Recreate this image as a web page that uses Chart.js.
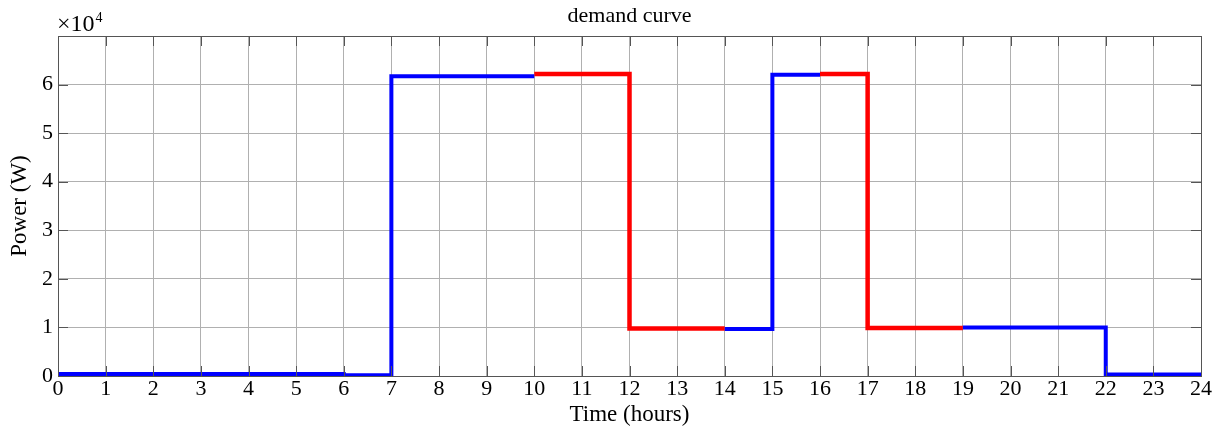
<!DOCTYPE html>
<html>
<head>
<meta charset="utf-8">
<script src="https://cdn.jsdelivr.net/npm/chart.js@4/dist/chart.umd.min.js"></script>
<style>
  html, body { margin: 0; padding: 0; background: #fff; }
  #wrap { width: 1227px; height: 430px; position: relative; }
</style>
</head>
<body>
<div id="wrap"><canvas id="demandChart"></canvas></div>
<script>
// ---- DATA ----
// hours (null breaks the line)
const blueX = [0, 6, 6, 7, 7, 10, null, 14, 15, 15, 16, null, 19, 22, 22, 24];
const blueY = [400, 400, 150, 150, 61700, 61700, null, 9700, 9700, 62000, 62000, null, 10000, 10000, 300, 300];
const redX = [10, 12, 12, 14, null, 16, 17, 17, 19];
const redY = [62200, 62200, 9800, 9800, null, 62200, 62200, 9900, 9900];
const xTicks = Array.from({ length: 25 }, (_, i) => i);
const yTicks = [0, 10000, 20000, 30000, 40000, 50000, 60000, 70000];

const serif = '"Liberation Serif", "DejaVu Serif", serif';

function toPoints(xs, ys) {
  return xs.map((x, i) => x === null ? { x: NaN, y: null } : { x: x, y: ys[i] });
}

// frame, inward ticks, title and exponent label
const framePlugin = {
  id: 'frame',
  afterDraw(chart) {
    const { ctx, chartArea: a, scales } = chart;
    ctx.save();
    ctx.strokeStyle = '#555';
    ctx.lineWidth = 1;
    ctx.strokeRect(a.left + 0.5, a.top + 0.5, a.right - a.left, a.bottom - a.top);
    ctx.beginPath();
    xTicks.forEach(v => {
      const px = Math.round(scales.x.getPixelForValue(v)) + 0.5;
      ctx.moveTo(px, a.bottom); ctx.lineTo(px, a.bottom - 10);
      ctx.moveTo(px, a.top); ctx.lineTo(px, a.top + 10);
    });
    yTicks.forEach(v => {
      const py = Math.round(scales.y.getPixelForValue(v)) + 0.5;
      ctx.moveTo(a.left, py); ctx.lineTo(a.left + 10, py);
      ctx.moveTo(a.right, py); ctx.lineTo(a.right - 10, py);
    });
    ctx.stroke();

    ctx.fillStyle = '#000';
    ctx.font = '22px ' + serif;
    ctx.textAlign = 'center';
    ctx.textBaseline = 'middle';
    ctx.fillText('demand curve', (a.left + a.right) / 2, 16);

    ctx.textAlign = 'left';
    ctx.font = '24px ' + serif;
    const base = '\u00d710';
    ctx.fillText(base, a.left - 1, 25);
    const w = ctx.measureText(base).width;
    ctx.font = '14px ' + serif;
    ctx.fillText('4', a.left + w, 18);
    ctx.restore();
  }
};

new Chart(document.getElementById('demandChart'), {
  type: 'line',
  data: {
    datasets: [
      {
        data: toPoints(blueX, blueY),
        borderColor: '#0000ff',
        borderWidth: 4,
        pointRadius: 0,
        spanGaps: false,
        borderJoinStyle: 'miter'
      },
      {
        data: toPoints(redX, redY),
        borderColor: '#ff0000',
        borderWidth: 4.5,
        pointRadius: 0,
        spanGaps: false,
        borderJoinStyle: 'miter'
      }
    ]
  },
  plugins: [framePlugin],
  options: {
    responsive: true,
    maintainAspectRatio: false,
    animation: false,
    layout: { padding: { top: 36, right: 26, left: 0, bottom: 0 } },
    plugins: {
      legend: { display: false },
      tooltip: { enabled: false },
      title: { display: false }
    },
    scales: {
      x: {
        type: 'linear',
        min: 0,
        max: 24,
        afterBuildTicks: s => { s.ticks = xTicks.map(v => ({ value: v })); },
        afterFit: s => { s.height = 54; },
        grid: { color: '#b0b0b0', lineWidth: 1, drawTicks: false },
        border: { display: false },
        ticks: { color: '#000', font: { family: serif, size: 22 }, padding: 0, maxRotation: 0, autoSkip: false },
        title: { display: true, text: 'Time (hours)', color: '#000', font: { family: serif, size: 23 }, padding: { top: 0, bottom: 1 } }
      },
      y: {
        min: 0,
        max: 70000,
        afterBuildTicks: s => { s.ticks = yTicks.map(v => ({ value: v })); },
        afterFit: s => { s.width = 58; },
        grid: { color: '#b0b0b0', lineWidth: 1, drawTicks: false },
        border: { display: false },
        ticks: {
          color: '#000',
          font: { family: serif, size: 22 },
          padding: 5,
          callback: v => v === 70000 ? '' : String(v / 10000)
        },
        title: { display: true, text: 'Power (W)', color: '#000', font: { family: serif, size: 23 }, padding: { top: 6, bottom: 0 } }
      }
    }
  }
});
</script>
</body>
</html>
